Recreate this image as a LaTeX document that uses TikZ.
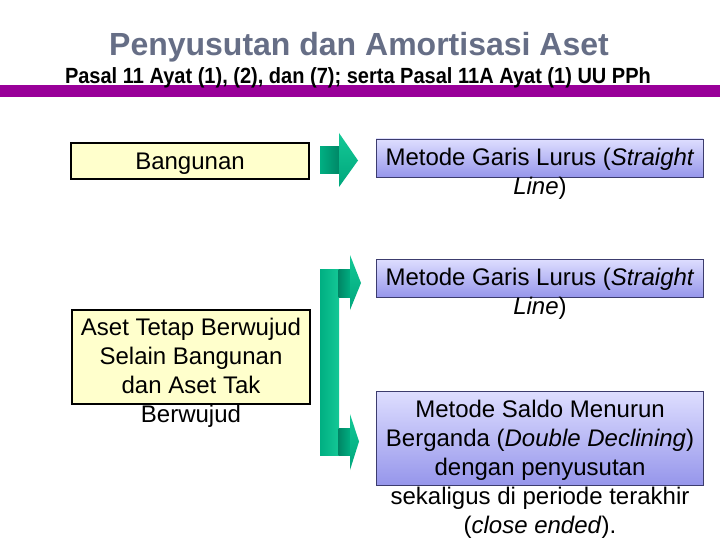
\documentclass[tikz,border=0pt]{standalone}
\usepackage{fontspec}
\setmainfont{Liberation Sans}
\newfontfamily\narrowfont{Liberation Sans}[FakeStretch=0.91]
\definecolor{titlegray}{RGB}{102,110,134}
\definecolor{bandpurple}{RGB}{153,0,153}
\definecolor{boxyellow}{RGB}{255,255,204}
\definecolor{boxblueTop}{RGB}{222,222,255}
\definecolor{boxblueBot}{RGB}{150,150,235}
\definecolor{boxblueLine}{RGB}{60,60,110}
\definecolor{gLight}{RGB}{20,200,150}
\definecolor{gMid}{RGB}{0,175,130}
\definecolor{gDark}{RGB}{0,118,90}
\begin{document}
\begin{tikzpicture}[x=1pt,y=-1pt,
  yellowbox/.style={draw=black, line width=1.8pt, fill=boxyellow, inner sep=0pt},
  bluebox/.style={draw=boxblueLine, line width=0.8pt, top color=boxblueTop, bottom color=boxblueBot, inner sep=0pt},
  bodytext/.style={font=\fontsize{24}{29}\selectfont, align=center, inner sep=0pt, anchor=north},
  shaftA/.style={left color=gMid, middle color=gMid!80!gDark, right color=gDark!70!gMid},
  shaftB/.style={left color=gDark!70!gMid, right color=gMid},
  headS/.style={top color=gLight, bottom color=gMid!85!gDark},
  barV/.style={left color=gMid, middle color=gDark, right color=gLight}]
\useasboundingbox (0,0) rectangle (720,540);
\fill[white] (0,0) rectangle (720,540);
% header
\node[font=\fontsize{32}{38}\selectfont\bfseries, text=titlegray, anchor=base, inner sep=0pt] (title) at (359,56) {Penyusutan dan Amortisasi Aset};
\fill[bandpurple] (0,85) rectangle (720,97);
\node[font=\fontsize{22}{26}\selectfont\narrowfont\bfseries, anchor=base, inner sep=0pt] (subtitle) at (358,84) {Pasal 11 Ayat (1), (2), dan (7); serta Pasal 11A Ayat (1) UU PPh};
% left boxes
\node[yellowbox, minimum width=238pt, minimum height=36pt, font=\fontsize{24}{29}\selectfont, text height=17.2pt, text depth=0pt] (bang) at (190,161) {Bangunan};
\node[yellowbox, minimum width=238pt, minimum height=94pt] (asetbox) at (191,357) {};
\node[bodytext] (asettxt) at (191,318) {Aset Tetap Berwujud\\Selain Bangunan\\dan Aset Tak\\Berwujud};
% right boxes
\node[bluebox, minimum width=327pt, minimum height=38pt] (r1box) at (539.5,158) {};
\node[bodytext] (r1txt) at (540,148) {Metode Garis Lurus (\textit{Straight}\\\textit{Line})};
\node[bluebox, minimum width=327pt, minimum height=38pt] (r2box) at (539.5,278) {};
\node[bodytext] (r2txt) at (540,268) {Metode Garis Lurus (\textit{Straight}\\\textit{Line})};
\node[bluebox, minimum width=327pt, minimum height=94pt] (r3box) at (539.5,438) {};
\node[bodytext] (r3txt) at (540,400) {Metode Saldo Menurun\\Berganda (\textit{Double Declining})\\dengan penyusutan\\sekaligus di periode terakhir\\(\textit{close ended}).};
% arrow 1
\shade[shaftA] (320,147) rectangle (339.5,174);
\shade[headS] (339,133) -- (358,160.5) -- (339,187) -- cycle;
% bracket arrow
\shade[barV] (320,269) rectangle (339,455);
\shade[shaftB] (338.5,269) rectangle (350.5,297);
\shade[headS] (350,255) -- (361,283) -- (350,310) -- cycle;
\shade[shaftB] (338.5,428) rectangle (350.5,455);
\shade[headS] (350,414) -- (359,441.5) -- (350,470) -- cycle;
\end{tikzpicture}
\end{document}
